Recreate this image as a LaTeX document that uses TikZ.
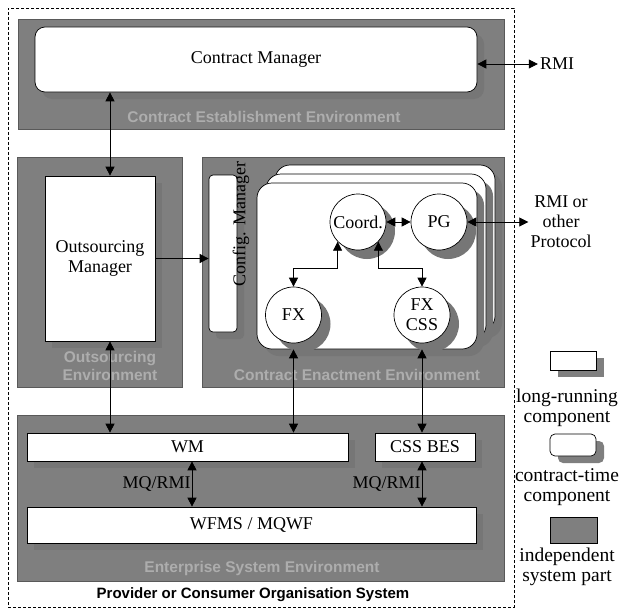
\documentclass[tikz,border=0pt]{standalone}
\usepackage{fontspec}
\setmainfont{Liberation Serif}
\newfontfamily\envfont{Liberation Sans}
\usetikzlibrary{arrows.meta,shadows,calc}

\definecolor{envgray}{HTML}{7F7F7F}
\definecolor{envtext}{HTML}{ADADAD}
\definecolor{shadowgray}{HTML}{767676}

\begin{document}
\begin{tikzpicture}[x=1pt,y=-1pt,
  font=\fontsize{18}{20}\selectfont,
  env/.style={draw=black!65,fill=envgray,line width=0.6pt,inner sep=0pt},
  envlabel/.style={font=\envfont\bfseries\fontsize{15.5}{18}\selectfont,text=envtext,align=center,inner sep=0pt},
  dropshade/.style={general shadow={shadow xshift=#1,shadow yshift=-#1,fill=shadowgray}},
  dropshade/.default=7pt,
  lrbox/.style={draw=black,fill=white,line width=0.7pt,inner sep=0pt,dropshade,align=center},
  ctbox/.style={lrbox,rounded corners=#1},
  proc/.style={circle,draw=black,fill=white,line width=0.7pt,minimum size=56pt,inner sep=0pt,dropshade=9pt,align=center},
  link/.style={line width=0.8pt,{Triangle[length=9pt,width=9pt]}-{Triangle[length=9pt,width=9pt]}},
  onelink/.style={line width=0.8pt,-{Triangle[length=9pt,width=9pt]}},
  legtext/.style={font=\fontsize{19.5}{20}\selectfont,align=center,inner sep=0pt},
]
\useasboundingbox (0,0) rectangle (621,610);

% organisation boundary
\node[draw=black,dashed,dash pattern=on 3pt off 2pt,line width=0.9pt,minimum width=506pt,minimum height=599pt,inner sep=0pt] (org) at (261,307.5) {};
\node[font=\envfont\bfseries\fontsize{15}{18}\selectfont,inner sep=0pt] (orgname) at (253,595) {Provider or Consumer Organisation System};

% environments
\node[env,minimum width=486pt,minimum height=110pt] (cee) at (261,74) {};
\node[env,minimum width=165pt,minimum height=230pt] (oe) at (99.5,272) {};
\node[env,minimum width=302pt,minimum height=230pt] (cene) at (353,272) {};
\node[env,minimum width=487pt,minimum height=166pt] (ese) at (260.5,498) {};

\node[envlabel] (ceelab) at (264,117) {Contract Establishment Environment};
\node[envlabel] (oelab) at (110,366) {Outsourcing\\Environment};
\node[envlabel] (cenelab) at (357,375) {Contract Enactment Environment};
\node[envlabel] (eselab) at (262,568) {Enterprise System Environment};

% contract establishment
\node[ctbox=10pt,minimum width=442pt,minimum height=65pt] (cm) at (256,59.5) {Contract Manager};
\node[inner sep=2pt] (rmi) at (557,64) {RMI};

% outsourcing
\node[lrbox,minimum width=110pt,minimum height=165pt] (om) at (100,258.5) {Outsourcing\\Manager};

% contract enactment
\node[ctbox=4pt,minimum width=28pt,minimum height=157pt] (cfg) at (223,253.5) {};
\node[rotate=90,inner sep=0pt] (cfgtxt) at (241,224) {Config. Manager};

\node[ctbox=15pt,minimum width=220pt,minimum height=166pt] (back) at (385,248) {};
\node[ctbox=15pt,minimum width=220pt,minimum height=166pt] (mid) at (376,257) {};
\node[ctbox=15pt,minimum width=220pt,minimum height=166pt] (front) at (367,266) {};

\node[proc] (coord) at (358,222) {Coord.};
\node[proc] (pg) at (439,222) {PG};
\node[proc] (fx) at (293.5,315) {FX};
\node[proc] (fxcss) at (422,315) {FX\\CSS};
\node[align=center,inner sep=2pt] (proto) at (561,222) {RMI or\\other\\Protocol};

% enterprise system
\node[lrbox,minimum width=321pt,minimum height=28pt] (wm) at (187.5,447) {WM};
\node[lrbox,minimum width=100pt,minimum height=28pt] (cssbes) at (425,447) {CSS BES};
\node[lrbox,minimum width=449pt,minimum height=36pt] (wfms) at (251.5,525) {WFMS / MQWF};

% reference columns and levels for the connectors
\coordinate (colom) at (110,0);
\coordinate (colwm) at (192,0);
\coordinate (elbow) at (0,268);

% connectors
\draw[link] (cm.east |- rmi.west) -- (rmi.west);
\draw[link] (cm.south -| colom) -- (om.north -| colom);
\draw[onelink] (om.east) -- (cfg.west |- om.east);
\draw[link] (om.south -| colom) -- (wm.north -| colom);
\draw[link] (coord.east) -- (pg.west);
\draw[link] (pg.east) -- (proto.west);
\draw[link] (coord.224) -- (coord.224 |- elbow) -| (fx.north);
\draw[link] (coord.316) -- (coord.316 |- elbow) -| (fxcss.north);
\draw[link] (front.south -| fx.south) -- (wm.north -| fx.south);
\draw[link] (front.south -| fxcss.south) -- (cssbes.north -| fxcss.south);
\draw[link] (wm.south -| colwm) -- (wfms.north -| colwm) node[midway,left=1pt,inner sep=0pt] (mq1) {MQ/RMI};
\draw[link] (cssbes.south -| fxcss.south) -- (wfms.north -| fxcss.south) node[midway,left=1pt,inner sep=0pt] (mq2) {MQ/RMI};

% legend
\node[general shadow={shadow xshift=8pt,shadow yshift=-7pt,fill=envgray},draw=black,fill=white,line width=0.7pt,minimum width=46pt,minimum height=19pt,inner sep=0pt] (leglr) at (573,360.5) {};
\node[legtext] (leglrtxt) at (567,408) {long-running\\component};
\node[general shadow={shadow xshift=8pt,shadow yshift=-7pt,fill=envgray},draw=black,fill=white,rounded corners=5pt,line width=0.7pt,minimum width=46pt,minimum height=22pt,inner sep=0pt] (legct) at (573,445) {};
\node[legtext] (legcttxt) at (567,487) {contract-time\\component};
\node[draw=black,fill=envgray,line width=0.7pt,minimum width=47pt,minimum height=26pt,inner sep=0pt] (legenv) at (573.5,530) {};
\node[legtext] (legenvtxt) at (567,566.5) {independent\\system part};
\end{tikzpicture}
\end{document}
